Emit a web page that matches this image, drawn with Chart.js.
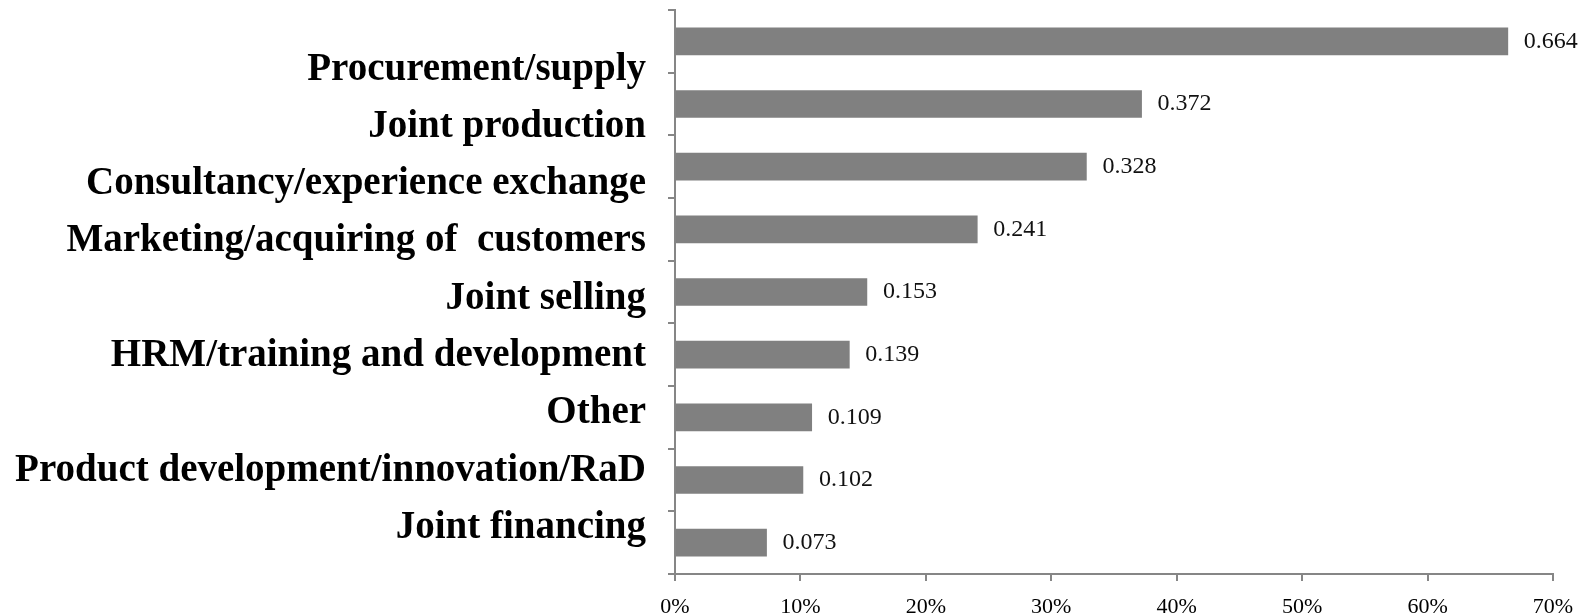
<!DOCTYPE html>
<html>
<head>
<meta charset="utf-8">
<script src="https://cdn.jsdelivr.net/npm/chart.js@4/dist/chart.umd.min.js"></script>
<style>
  html, body { margin: 0; padding: 0; background: #fff; }
  #wrap { width: 1594px; height: 616px; }
</style>
</head>
<body>
<div id="wrap"><canvas id="chart" width="1594" height="616"></canvas></div>
<script>
/* ================= DATA ================= */
const categories = [
  "Procurement/supply",
  "Joint production",
  "Consultancy/experience exchange",
  "Marketing/acquiring of  customers",
  "Joint selling",
  "HRM/training and development",
  "Other",
  "Product development/innovation/RaD",
  "Joint financing"
];
const shares = [0.664, 0.372, 0.328, 0.241, 0.153, 0.139, 0.109, 0.102, 0.073];
const xTicks = [0, 0.1, 0.2, 0.3, 0.4, 0.5, 0.6, 0.7];

/* ================= STYLE ================= */
const AXIS_GRAY = "#868686";
const BAR_GRAY = "#808080";
const SERIF = "'Liberation Serif', 'Times New Roman', serif";

/* value labels at the end of each bar */
const valueLabels = {
  id: "valueLabels",
  afterDatasetsDraw(chart) {
    const ctx = chart.ctx;
    const meta = chart.getDatasetMeta(0);
    ctx.save();
    ctx.font = "24px " + SERIF;
    ctx.fillStyle = "#111";
    ctx.textAlign = "left";
    ctx.textBaseline = "middle";
    meta.data.forEach((bar, i) => {
      ctx.fillText(shares[i].toFixed(3), bar.x + 16, bar.y);
    });
    ctx.restore();
  }
};

const ctx = document.getElementById("chart").getContext("2d");

new Chart(ctx, {
  type: "bar",
  data: {
    labels: categories,
    datasets: [{
      data: shares,
      backgroundColor: BAR_GRAY,
      borderWidth: 0,
      barThickness: 27
    }]
  },
  options: {
    indexAxis: "y",
    responsive: false,
    animation: false,
    devicePixelRatio: 1,
    layout: { padding: { top: 10, right: 41, left: 0, bottom: 0 } },
    plugins: {
      legend: { display: false },
      tooltip: { enabled: false }
    },
    scales: {
      x: {
        type: "linear",
        min: 0,
        max: 0.7,
        afterBuildTicks: (s) => { s.ticks = xTicks.map(v => ({ value: v })); },
        afterFit: (s) => { s.height = 42; },
        ticks: {
          callback: (v) => Math.round(v * 100) + "%",
          font: { family: SERIF, size: 22 },
          color: "#000",
          padding: 13,
          maxRotation: 0
        },
        grid: {
          drawOnChartArea: false,
          tickLength: 7,
          color: AXIS_GRAY,
          lineWidth: 2
        },
        border: { color: AXIS_GRAY, width: 2 }
      },
      y: {
        type: "category",
        position: "left",
        weight: 0,
        afterFit: (s) => { s.width = 29; },
        ticks: { display: false },
        grid: {
          offset: true,
          drawOnChartArea: false,
          tickLength: 7,
          color: AXIS_GRAY,
          lineWidth: 2
        },
        border: { color: AXIS_GRAY, width: 2 }
      },
      // category names sit on their own evenly spaced axis, like the source
      names: {
        type: "linear",
        position: "left",
        weight: 1,
        reverse: true,
        offset: false,
        min: -1.038,
        max: 8.805,
        afterBuildTicks: (s) => { s.ticks = categories.map((_, i) => ({ value: i })); },
        afterFit: (s) => { s.width = 646; s.paddingTop = 0; s.paddingBottom = 0; },
        ticks: {
          callback: (v) => categories[v],
          autoSkip: false,
          padding: 0,
          font: { family: SERIF, size: 39, weight: "bold", lineHeight: 0.01 },
          color: "#000"
        },
        grid: { display: false, offset: false, drawTicks: false, tickLength: 0 },
        border: { display: false }
      }
    }
  },
  plugins: [valueLabels]
});
</script>
</body>
</html>
